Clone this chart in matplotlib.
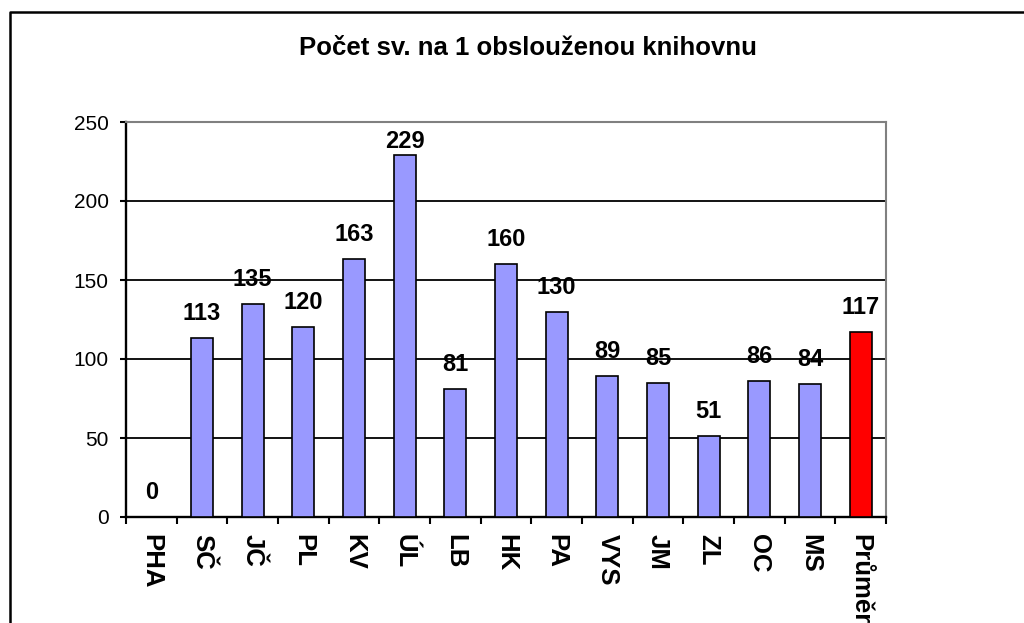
import matplotlib
matplotlib.use("Agg")
import matplotlib.pyplot as plt
from matplotlib.lines import Line2D
import numpy as np

plt.rcParams['font.family'] = ['Liberation Sans', 'DejaVu Sans']

regions = ['PHA', 'SČ', 'JČ', 'PL', 'KV', 'ÚL', 'LB', 'HK', 'PA', 'VYS', 'JM', 'ZL', 'OC', 'MS', 'Průměr']
values = [0, 113, 135, 120, 163, 229, 81, 160, 130, 89, 85, 51, 86, 84, 117]
colors = ['#9999FF'] * 14 + ['#FF0000']
title = 'Počet sv. na 1 obslouženou knihovnu'

W, H = 1024, 623
fig = plt.figure(figsize=(W / 100, H / 100), dpi=100)
fig.patch.set_facecolor('white')

# plot area in pixels
left, right, top, bottom = 126, 886, 122, 517
ax = fig.add_axes([left / W, 1 - bottom / H, (right - left) / W, (bottom - top) / H])

x = np.arange(len(regions))
ax.bar(x, values, width=0.43, color=colors, edgecolor='black', linewidth=1.2, zorder=3)

ax.set_xlim(-0.5, len(regions) - 0.5)
ax.set_ylim(0, 250)
ax.set_yticks([0, 50, 100, 150, 200, 250])
for y in [50, 100, 150, 200]:
    ax.axhline(y, color='black', linewidth=1.3, zorder=1)

# ticks at category boundaries, labels at centres
ax.set_xticks(np.arange(-0.5, len(regions)), minor=True)
ax.set_xticks(x)
ax.set_xticklabels(regions, rotation=270, fontsize=18.5, fontweight='bold', va='top', ha='center')
ax.tick_params(axis='x', which='major', length=0, pad=12.5)
ax.tick_params(axis='x', which='minor', length=5, width=1.5, direction='out')
ax.tick_params(axis='y', length=4.5, width=1.5, direction='out', pad=8, labelsize=15)

for side in ['top', 'right']:
    ax.spines[side].set_color('#808080')
    ax.spines[side].set_linewidth(1.5)
for side in ['left', 'bottom']:
    ax.spines[side].set_color('black')
    ax.spines[side].set_linewidth(1.7)

# value labels above bars, kept inside the plot area
px = 250 / (bottom - top)
for xi, v in zip(x, values):
    ytxt = min(v + 18 * px, 250 - 26 * px)
    ax.text(xi, ytxt, str(v), ha='center', va='baseline', fontsize=17, fontweight='bold', zorder=4)

fig.text(528 / W, 1 - 55 / H, title, ha='center', va='baseline', fontsize=18.5, fontweight='bold')

# outer chart frame
fig.add_artist(Line2D([10 / W, 10 / W, 1.0], [0, 1 - 11.5 / H, 1 - 11.5 / H],
                      transform=fig.transFigure, color='black', linewidth=1.8))

fig.savefig('out.png', dpi=100)
